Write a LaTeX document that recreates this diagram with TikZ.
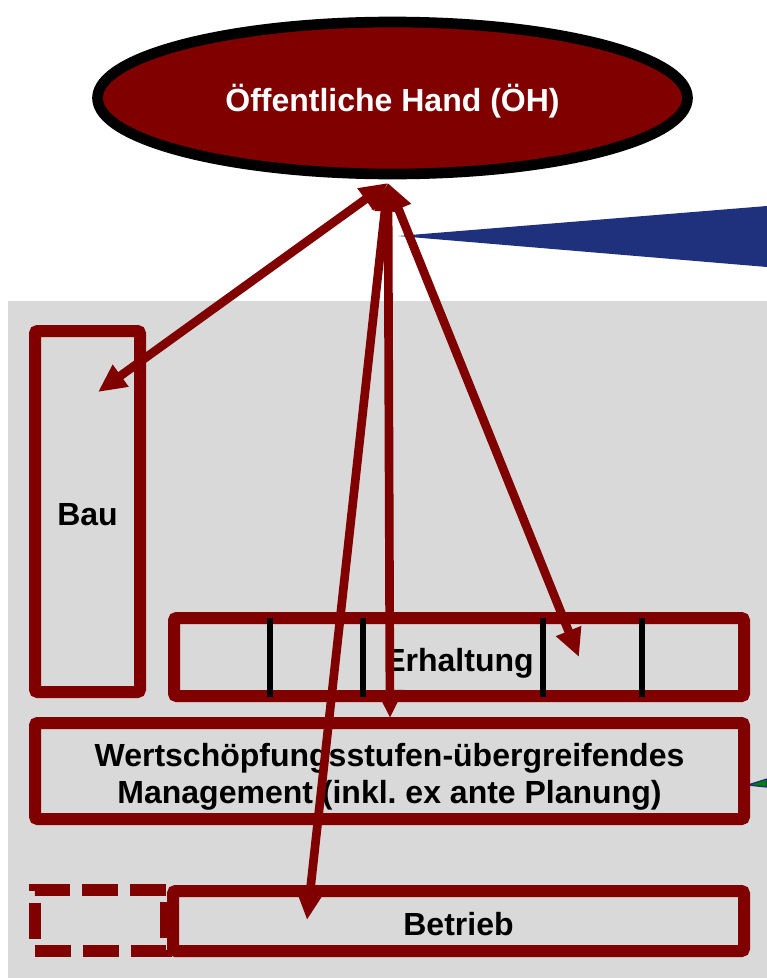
\documentclass[tikz,border=0pt]{standalone}
\usepackage{fontspec}
\setmainfont{Liberation Sans}
\usetikzlibrary{arrows.meta, shapes.geometric}
\definecolor{darkred}{RGB}{128,0,0}
\definecolor{panelgray}{RGB}{217,217,217}
\definecolor{navy}{RGB}{31,49,125}
\colorlet{leafgreen}{green!50!black}
\frenchspacing

\tikzset{
    box/.style={draw=darkred, line width=9pt, rounded corners=2pt, inner sep=0pt,
        text height=21pt, text depth=0pt,
        font=\bfseries\fontsize{24}{28}\selectfont},
    link/.style={darkred, line width=6.5pt,
        {Triangle[length=21pt, width=19pt]}-{Triangle[length=21pt, width=19pt]}},
    stage/.style={black, line width=4.5pt},
}

\begin{document}
\begin{tikzpicture}[x=0.75pt, y=-0.75pt]

    \useasboundingbox (0, 0) rectangle (767, 978);

    % panel and callouts
    \fill[panelgray] (8, 301) rectangle (767, 978);
    \fill[navy] (398, 236) -- (767, 206) -- (767, 267) -- cycle;
    \filldraw[fill=leafgreen, draw=navy, line width=1pt] (748, 785) -- (767, 779) -- (767, 787) -- cycle;

    % public sector
    \node[ellipse, draw=black, fill=darkred, line width=8pt, text=white,
        minimum width=442.5pt, minimum height=114pt, text height=19.6pt, text depth=0pt,
        font=\bfseries\fontsize{24}{28}\selectfont] (oeh) at (392.5, 98) {Öffentliche Hand (ÖH)};

    % value chain stages
    \node[box, minimum width=78.75pt, minimum height=270.75pt] (bau) at (87.5, 511.5) {Bau};
    \node[box, minimum width=427.5pt, minimum height=58.5pt] (erh) at (459, 657) {Erhaltung};
    \node[box, minimum width=531.75pt, minimum height=72pt, align=center, text height=49pt] (mgmt) at (389.5, 771)
        {Wertschöpfungsstufen-übergreifendes\\Management (inkl. ex ante Planung)};
    \node[box, minimum width=428.25pt, minimum height=45pt] (betr) at (458.5, 921) {Betrieb};
    \node[box, dash pattern=on 27pt off 9pt, rounded corners=0pt,
        minimum width=98.25pt, minimum height=45.75pt] (vorb) at (100.5, 920.5) {};

    \foreach \x in {270, 363, 543, 642}
        \draw[stage] (\x, 618) -- (\x, 697);

    % relations
    \coordinate (hub) at (388, 183);
    \coordinate (bau-tip) at (98, 392);
    \coordinate (erh-tip) at (579, 657);
    \coordinate (mgmt-tip) at (390, 718);
    \coordinate (betr-tip) at (307, 920);

    \draw[link] (hub) -- (bau-tip);
    \draw[link] (hub) -- (erh-tip);
    \draw[link] (hub) -- (mgmt-tip);
    \draw[link] (hub) -- (betr-tip);

\end{tikzpicture}
\end{document}
